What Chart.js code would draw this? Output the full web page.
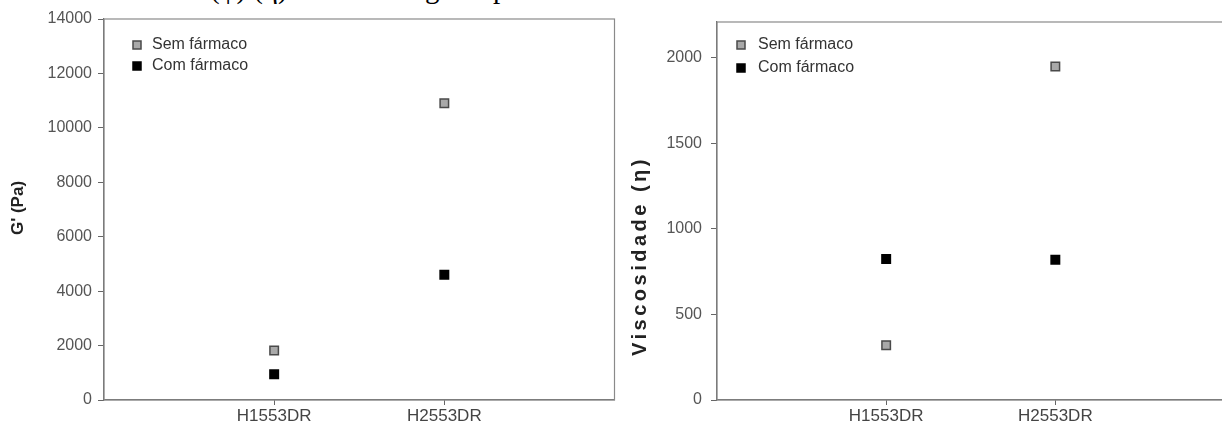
<!DOCTYPE html>
<html>
<head>
<meta charset="utf-8">
<script src="https://cdn.jsdelivr.net/npm/chart.js@4"></script>
<style>
  html, body { margin: 0; padding: 0; background: #fff; overflow: hidden; width: 1222px; height: 434px; position: relative; }
  .box { position: absolute; top: 0; height: 434px; }
  #leftBox { left: 0; width: 622px; }
  #rightBox { left: 620px; width: 612px; }
  .caption { position: absolute; top: -27px; font-family: "Liberation Serif", "Times New Roman", serif; font-size: 29px; color: #000; white-space: nowrap; line-height: 30px; }
</style>
</head>
<body>
<div class="caption" style="left:210px">(φ) (η)</div>
<div class="caption" style="left:425px">g</div>
<div class="caption" style="left:493px">p</div>
<div class="box" id="leftBox"><canvas id="left"></canvas></div>
<div class="box" id="rightBox"><canvas id="right"></canvas></div>
<script>
// Formulations on the x axis
const categories = ['H1553DR', 'H2553DR'];
// Storage modulus G' (Pa)
const gSemFarmaco = [1820, 10900];
const gComFarmaco = [950, 4600];
// Viscosity
const viscSemFarmaco = [320, 1950];
const viscComFarmaco = [825, 820];
// Series names
const seriesNames = ['Sem fármaco', 'Com fármaco'];
// Y tick values
const gTicks = [0, 2000, 4000, 6000, 8000, 10000, 12000, 14000];
const viscTicks = [0, 500, 1000, 1500, 2000];

const FONT = '"Liberation Sans", Arial, sans-serif';
const semStyle = { fill: '#a9a9a9', stroke: '#4a4a4a' };
const comStyle = { fill: '#000000', stroke: '#000000' };

function points(values) {
  return values.map((v, i) => ({ x: i + 1, y: v }));
}

function dataset(label, values, style) {
  return {
    label,
    data: points(values),
    pointStyle: 'rect',
    pointRadius: 6,
    pointHoverRadius: 6,
    pointBackgroundColor: style.fill,
    pointBorderColor: style.stroke,
    pointBorderWidth: 1.5,
    showLine: false
  };
}

// Frame, legend and rotated axis title
function decorations(opts) {
  return {
    id: 'decorations',
    beforeDatasetsDraw(chart) {
      const { ctx, chartArea: a } = chart;
      ctx.save();
      ctx.strokeStyle = '#8a8a8a';
      ctx.lineWidth = 1.2;
      ctx.strokeRect(a.left, a.top, a.right - a.left, a.bottom - a.top);
      ctx.restore();
    },
    afterDraw(chart) {
      const { ctx } = chart;
      ctx.save();
      // legend
      const styles = [semStyle, comStyle];
      ctx.font = '16px ' + FONT;
      ctx.textBaseline = 'middle';
      seriesNames.forEach((name, i) => {
        const y = opts.legendY[i];
        const s = styles[i];
        ctx.fillStyle = s.fill;
        ctx.strokeStyle = s.stroke;
        ctx.lineWidth = 1.5;
        ctx.fillRect(opts.legendX - 4, y - 4, 8, 8);
        ctx.strokeRect(opts.legendX - 4, y - 4, 8, 8);
        ctx.fillStyle = '#333';
        ctx.fillText(name, opts.legendTextX, y);
      });
      // y axis title
      ctx.translate(opts.titleX, opts.titleY);
      ctx.rotate(-Math.PI / 2);
      ctx.font = 'bold ' + opts.titleSize + 'px ' + FONT;
      ctx.fillStyle = '#222';
      ctx.textAlign = 'center';
      ctx.textBaseline = 'middle';
      if (opts.titleSpacing) ctx.letterSpacing = opts.titleSpacing;
      ctx.fillText(opts.title, 0, 0);
      ctx.restore();
    }
  };
}

function makeChart(id, sem, com, yOpts, deco, pad, axisWidth) {
  return new Chart(document.getElementById(id), {
    type: 'scatter',
    data: {
      datasets: [
        dataset(seriesNames[0], sem, semStyle),
        dataset(seriesNames[1], com, comStyle)
      ]
    },
    options: {
      responsive: true,
      maintainAspectRatio: false,
      animation: false,
      layout: { padding: pad },
      plugins: { legend: { display: false }, tooltip: { enabled: false } },
      scales: {
        x: {
          type: 'linear',
          min: 0,
          max: 3,
          afterBuildTicks(scale) { scale.ticks = [{ value: 1 }, { value: 2 }]; },
          afterFit(scale) { scale.height = 34; },
          ticks: {
            callback: (v) => categories[v - 1] || '',
            font: { family: FONT, size: 17 },
            color: '#444',
            padding: 1,
            maxRotation: 0
          },
          grid: { drawOnChartArea: false, drawTicks: true, tickLength: 5, color: '#666' },
          border: { display: true, color: '#666', width: 1.2 }
        },
        y: {
          min: yOpts.min,
          max: yOpts.max,
          afterFit(scale) { scale.width = axisWidth; },
          afterBuildTicks(scale) { scale.ticks = yOpts.ticks.map(v => ({ value: v })); },
          ticks: {
            callback: (v) => String(v),
            font: { family: FONT, size: 16 },
            color: '#555',
            padding: yOpts.pad
          },
          grid: { drawOnChartArea: false, drawTicks: true, tickLength: 6, color: '#666' },
          border: { display: true, color: '#666', width: 1.2 }
        }
      }
    },
    plugins: [decorations(deco)]
  });
}

// Left panel: G' (Pa)
makeChart('left', gSemFarmaco, gComFarmaco,
  { min: 0, max: 14000, ticks: gTicks, pad: 6 },
  { legendX: 137, legendTextX: 152, legendY: [45, 66], title: "G' (Pa)", titleSize: 17, titleX: 18, titleY: 208 },
  { top: 19, right: 4, left: 0, bottom: 0 }, 104);

// Right panel: Viscosidade (η)
makeChart('right', viscSemFarmaco, viscComFarmaco,
  { min: 0, max: 2210, ticks: viscTicks, pad: 9 },
  { legendX: 121, legendTextX: 138, legendY: [45, 68], title: 'Viscosidade (η)', titleSize: 20, titleX: 20, titleY: 256, titleSpacing: '3.5px' },
  { top: 22, right: 5, left: 0, bottom: 0 }, 97);
</script>
</body>
</html>
